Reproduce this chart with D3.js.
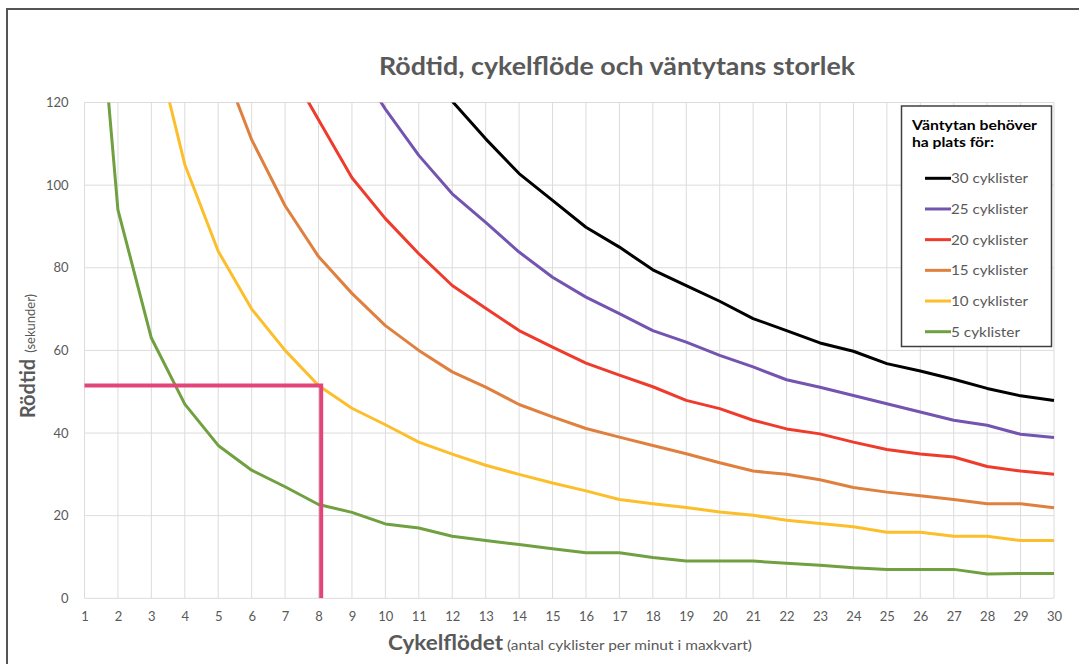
<!DOCTYPE html>
<html>
<head>
<meta charset="utf-8">
<script src="https://cdn.jsdelivr.net/npm/d3@7"></script>
<style>
  html, body { margin: 0; padding: 0; background: #fff; }
  svg { display: block; font-family: Lato, "Open Sans", sans-serif; }
</style>
</head>
<body>
<svg id="chart" width="1079" height="664"></svg>
<script>
// ---- data ----
const flow = [1,2,3,4,5,6,7,8,9,10,11,12,13,14,15,16,17,18,19,20,21,22,23,24,25,26,27,28,29,30];
const yTicks = [0, 20, 40, 60, 80, 100, 120];
const seriesNames = ["30 cyklister", "25 cyklister", "20 cyklister", "15 cyklister", "10 cyklister", "5 cyklister"];
const cyc30 = [null,null,null,null,null,null,null,null,null,null,130,120.3,111.2,102.8,96.3,89.8,85,79.5,75.7,71.9,67.7,64.8,61.8,59.8,56.8,55,53,50.8,49,47.9];
const cyc25 = [null,null,null,null,null,null,null,null,131,118.4,107.2,97.9,91,83.8,77.7,72.9,68.9,64.8,62,58.8,56,52.9,51.1,49.1,47.1,45.1,43.1,41.9,39.7,38.9];
const cyc20 = [null,null,null,null,null,null,130,115.8,101.8,91.9,83.4,75.7,70.2,64.8,60.8,56.9,54,51.2,47.9,45.9,43.1,41,39.8,37.8,36,34.9,34.2,31.9,30.8,30];
const cyc15 = [null,null,null,null,132,111,95,82.7,73.8,66,60,54.8,51.1,46.9,43.9,41.1,39,37,35,32.8,30.8,30,28.7,26.8,25.7,24.8,23.9,22.9,22.9,21.9];
const cyc10 = [null,null,138,105,84,70,60,51.5,46,42,37.8,34.9,32.2,30,27.9,26,23.9,22.9,22,20.9,20.1,18.9,18.1,17.3,16,16,15,15,14,14];
const cyc5  = [188,94,63,47,37,31,27,22.7,20.8,18,17,15,14,13,12,11,11,9.9,9,9,9,8.5,8,7.4,7,7,7,5.9,6,6];
const markerFlow = 8.08;
const markerRed = 51.5;

const seriesValues = [cyc30, cyc25, cyc20, cyc15, cyc10, cyc5];
const colors = ["#000000", "#7354b0", "#ef3b2c", "#e0803e", "#fcbf2b", "#70a040"];

// ---- layout ----
const svg = d3.select("#chart");
const L = 84.5, R = 1054, T = 102.5, B = 598.3;
const x = d3.scaleLinear().domain([1, 30]).range([L, R]);
const y = d3.scaleLinear().domain([0, 120]).range([B, T]);
const gray = "#595959";

// outer frame (top & left)
svg.append("path")
  .attr("d", `M7,664 L7,9 L1079,9`)
  .attr("fill", "none").attr("stroke", "#555").attr("stroke-width", 2);

// title
svg.append("text")
  .attr("x", 617).attr("y", 75)
  .attr("text-anchor", "middle")
  .attr("font-size", 24).attr("font-weight", 700)
  .attr("fill", gray)
  .attr("textLength", 476).attr("lengthAdjust", "spacingAndGlyphs")
  .text("Rödtid, cykelflöde och väntytans storlek");

// gridlines
const grid = svg.append("g");
grid.selectAll("line.v").data(flow).join("line")
  .attr("x1", d => x(d)).attr("x2", d => x(d))
  .attr("y1", T).attr("y2", B)
  .attr("stroke", "#dcdcdc").attr("stroke-width", 1);
grid.selectAll("line.h").data(yTicks).join("line")
  .attr("x1", L).attr("x2", R)
  .attr("y1", d => y(d)).attr("y2", d => y(d))
  .attr("stroke", "#dcdcdc").attr("stroke-width", 1);

// axes (labels only)
const xAxis = svg.append("g").attr("transform", `translate(0,${B})`)
  .call(d3.axisBottom(x).tickValues(flow).tickSize(0).tickPadding(13).tickFormat(d3.format("d")));
xAxis.select(".domain").remove();
xAxis.selectAll("text").attr("font-size", 13).attr("fill", gray).attr("font-family", "Lato, sans-serif");

const yAxis = svg.append("g").attr("transform", `translate(${L},0)`)
  .call(d3.axisLeft(y).tickValues(yTicks).tickSize(0).tickPadding(16));
yAxis.select(".domain").remove();
yAxis.selectAll("text").attr("font-size", 13).attr("fill", gray).attr("font-family", "Lato, sans-serif");

// clip
svg.append("clipPath").attr("id", "plotclip")
  .append("rect").attr("x", L - 2).attr("y", T).attr("width", R - L + 4).attr("height", B - T);

const line = d3.line()
  .defined(d => d[1] !== null)
  .x(d => x(d[0])).y(d => y(d[1]));

const plot = svg.append("g").attr("clip-path", "url(#plotclip)");
seriesValues.forEach((vals, i) => {
  plot.append("path")
    .datum(flow.map((f, j) => [f, vals[j]]))
    .attr("d", line)
    .attr("fill", "none")
    .attr("stroke", colors[i])
    .attr("stroke-width", 3)
    .attr("stroke-linejoin", "round");
});

// marker lines (pink)
plot.append("path")
  .attr("d", `M${x(1)},${y(markerRed)} L${x(markerFlow)},${y(markerRed)} L${x(markerFlow)},${y(0)}`)
  .attr("fill", "none").attr("stroke", "#e2457a").attr("stroke-width", 4);

// axis titles
svg.append("text")
  .attr("transform", "translate(35,356) rotate(-90)")
  .attr("text-anchor", "middle")
  .attr("fill", gray)
  .call(t => {
    t.append("tspan").attr("font-size", 20).attr("font-weight", 700).text("Rödtid");
    t.append("tspan").attr("font-size", 13).attr("dx", 6).text("(sekunder)");
  });

svg.append("text")
  .attr("x", 388).attr("y", 650)
  .attr("font-size", 20).attr("font-weight", 700).attr("fill", gray)
  .attr("textLength", 115).attr("lengthAdjust", "spacingAndGlyphs")
  .text("Cykelflödet");
svg.append("text")
  .attr("x", 507).attr("y", 650)
  .attr("font-size", 13).attr("fill", gray)
  .attr("textLength", 245).attr("lengthAdjust", "spacingAndGlyphs")
  .text("(antal cyklister per minut i maxkvart)");

// legend
const lg = svg.append("g");
lg.append("rect")
  .attr("x", 901.5).attr("y", 106).attr("width", 150).attr("height", 240.5)
  .attr("fill", "#fff").attr("stroke", "#404040").attr("stroke-width", 1.5);
lg.append("text").attr("x", 912).attr("y", 129.5)
  .attr("font-size", 14).attr("font-weight", 700).attr("fill", "#000")
  .attr("textLength", 125).attr("lengthAdjust", "spacingAndGlyphs")
  .text("Väntytan behöver");
lg.append("text").attr("x", 912).attr("y", 147)
  .attr("font-size", 14).attr("font-weight", 700).attr("fill", "#000")
  .attr("textLength", 82).attr("lengthAdjust", "spacingAndGlyphs")
  .text("ha plats för:");
const ly = d3.scaleLinear().domain([0, 5]).range([178.3, 331.7]);
seriesNames.forEach((name, i) => {
  lg.append("line")
    .attr("x1", 925).attr("x2", 951)
    .attr("y1", ly(i)).attr("y2", ly(i))
    .attr("stroke", colors[i]).attr("stroke-width", 3);
  lg.append("text")
    .attr("x", 951).attr("y", ly(i) + 5)
    .attr("font-size", 14).attr("fill", gray)
    .attr("textLength", name.length === 12 ? 77 : 69).attr("lengthAdjust", "spacingAndGlyphs")
    .text(name);
});
</script>
</body>
</html>
